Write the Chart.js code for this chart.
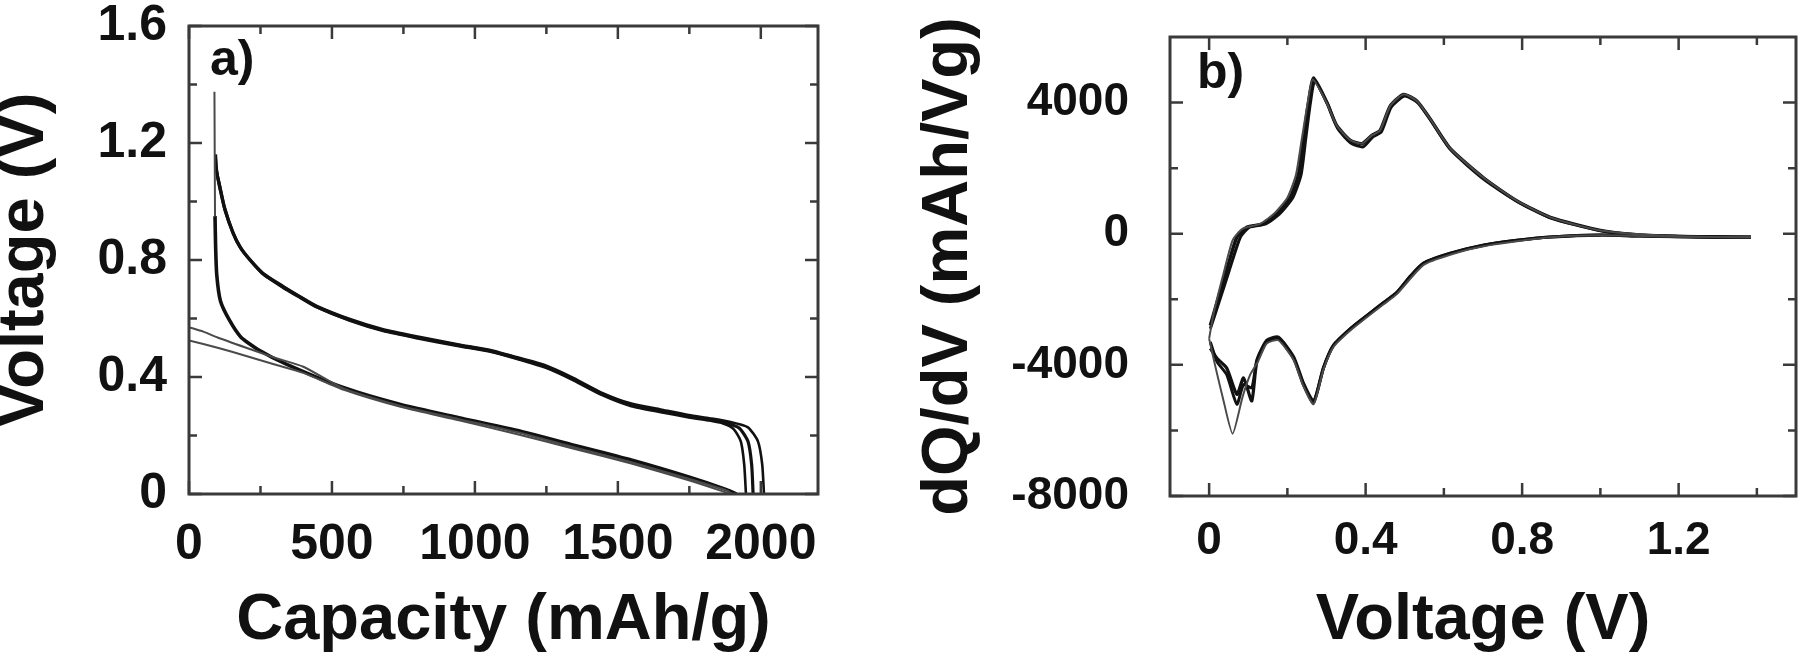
<!DOCTYPE html>
<html><head><meta charset="utf-8">
<script src="https://cdn.jsdelivr.net/npm/chart.js@4.4.1/dist/chart.umd.min.js"></script>
<style>
html,body{margin:0;padding:0;background:#fff;width:1800px;height:658px;overflow:hidden}
.p{position:absolute;top:0;width:900px;height:658px}
</style></head><body>
<div class="p" style="left:0"><canvas id="ca"></canvas></div>
<div class="p" style="left:900px"><canvas id="cb"></canvas></div>
<script>
// ---------- Panel a: Voltage vs Capacity ----------
const aXTicks = [0, 500, 1000, 1500, 2000];
const aXLabels = ['0', '500', '1000', '1500', '2000'];
const aXMinor = [250, 750, 1250, 1750];
const aYTicks = [0, 0.4, 0.8, 1.2, 1.6];
const aYLabels = ['0', '0.4', '0.8', '1.2', '1.6'];
const aYMinor = [0.2, 0.6, 1.0, 1.4];

const aUpCap1 = [93, 95, 100, 108, 125, 154, 180, 213, 260, 329, 390, 447, 563, 679, 800, 944, 1050, 1145, 1246, 1346, 1447, 1547, 1650, 1748, 1820, 1868, 1905, 1930, 1942, 1948];
const aUpV1   = [1.16, 1.12, 1.08, 1.04, 0.97, 0.89, 0.84, 0.80, 0.75, 0.705, 0.67, 0.638, 0.592, 0.557, 0.532, 0.505, 0.487, 0.462, 0.432, 0.388, 0.337, 0.300, 0.280, 0.262, 0.251, 0.241, 0.222, 0.180, 0.100, 0.0];
const aUpCap2 = [93, 95, 100, 108, 125, 154, 180, 213, 260, 329, 390, 447, 563, 679, 800, 944, 1050, 1145, 1246, 1346, 1447, 1547, 1650, 1748, 1820, 1880, 1925, 1955, 1968, 1973];
const aUpV2   = [1.16, 1.12, 1.085, 1.05, 0.975, 0.893, 0.842, 0.80, 0.752, 0.708, 0.672, 0.640, 0.595, 0.560, 0.535, 0.508, 0.490, 0.465, 0.436, 0.392, 0.341, 0.305, 0.285, 0.266, 0.255, 0.243, 0.225, 0.180, 0.100, 0.0];
const aUpCap3 = [93, 95, 100, 108, 125, 154, 180, 213, 260, 329, 390, 447, 563, 679, 800, 944, 1050, 1145, 1246, 1346, 1447, 1547, 1650, 1748, 1820, 1890, 1955, 1990, 2005, 2011];
const aUpV3   = [1.16, 1.12, 1.09, 1.055, 0.98, 0.896, 0.845, 0.803, 0.755, 0.711, 0.675, 0.643, 0.598, 0.563, 0.538, 0.511, 0.493, 0.468, 0.440, 0.396, 0.345, 0.309, 0.289, 0.270, 0.259, 0.247, 0.228, 0.180, 0.100, 0.0];

const aSpikeCap = [89, 90, 91];
const aSpikeV   = [1.375, 1.15, 0.95];
const aDnCap = [91, 93, 97, 110, 141, 181, 241, 342, 542, 743, 944, 1145, 1346, 1547, 1748, 1880, 1915];
const aDnV   = [0.95, 0.85, 0.75, 0.66, 0.595, 0.537, 0.494, 0.443, 0.363, 0.305, 0.261, 0.218, 0.167, 0.116, 0.058, 0.015, 0.0];
const aT1Cap = [0, 50, 100, 200, 300, 400, 542, 743, 944, 1145, 1346, 1547, 1748, 1880, 1900];
const aT1V   = [0.57, 0.555, 0.535, 0.50, 0.466, 0.435, 0.360, 0.300, 0.256, 0.212, 0.160, 0.109, 0.052, 0.012, 0.0];
const aT2Cap = [0, 100, 200, 300, 400, 542, 743, 944, 1145, 1346, 1547, 1748, 1870, 1890];
const aT2V   = [0.525, 0.50, 0.472, 0.443, 0.414, 0.356, 0.297, 0.252, 0.205, 0.155, 0.104, 0.047, 0.008, 0.0];

// ---------- Panel b: dQ/dV vs Voltage ----------
const bXTicks = [0, 0.4, 0.8, 1.2];
const bXLabels = ['0', '0.4', '0.8', '1.2'];
const bXMinor = [0.2, 0.6, 1.0, 1.4];
const bYTicks = [-8000, -4000, 0, 4000];
const bYLabels = ['-8000', '-4000', '0', '4000'];
const bYMinor = [-6000, -2000, 2000];

const bUpV1 = [0.0, 0.012, 0.035, 0.060, 0.085, 0.130, 0.165, 0.200, 0.222, 0.237, 0.252, 0.265, 0.300, 0.326, 0.361, 0.391, 0.416, 0.437, 0.463, 0.497, 0.531, 0.565, 0.616, 0.702, 0.787, 0.872, 1.0, 1.2, 1.385];
const bUpQ1 = [-3200, -2400, -1300, -200, 150, 300, 600, 1100, 1800, 2900, 4000, 4700, 4000, 3300, 2850, 2750, 3000, 3150, 3900, 4250, 4050, 3500, 2600, 1700, 1000, 500, 100, -80, -110];
const bUpV2 = [0.003, 0.020, 0.045, 0.071, 0.096, 0.139, 0.173, 0.207, 0.228, 0.241, 0.254, 0.267, 0.301, 0.326, 0.361, 0.391, 0.416, 0.437, 0.463, 0.497, 0.531, 0.565, 0.616, 0.702, 0.787, 0.872, 1.0, 1.1, 1.2, 1.3, 1.385];
const bUpQ2 = [-2800, -2100, -1100, -100, 200, 300, 600, 1100, 1800, 2900, 4000, 4750, 4000, 3300, 2850, 2750, 3000, 3150, 3900, 4250, 4050, 3500, 2600, 1700, 1000, 500, 100, -40, -80, -100, -110];
const bUpV3 = [0.003, 0.025, 0.052, 0.080, 0.103, 0.145, 0.180, 0.214, 0.235, 0.247, 0.259, 0.270, 0.303, 0.329, 0.364, 0.394, 0.418, 0.440, 0.465, 0.499, 0.533, 0.567, 0.618, 0.703, 0.788, 0.873, 1.0, 1.1, 1.2, 1.3, 1.385];
const bUpQ3 = [-2900, -2100, -1100, -100, 200, 300, 600, 1100, 1800, 2900, 4000, 4650, 3950, 3200, 2750, 2650, 2950, 3100, 3850, 4200, 4000, 3450, 2550, 1650, 980, 480, 90, -40, -80, -100, -110];

const bDnV1 = [1.385, 1.2, 1.0, 0.872, 0.702, 0.616, 0.548, 0.479, 0.446, 0.403, 0.361, 0.318, 0.292, 0.267, 0.241, 0.216, 0.177, 0.147, 0.125, 0.105, 0.085, 0.060, 0.035, 0.015, 0.0];
const bDnQ1 = [-110, -90, -50, -110, -380, -640, -950, -1850, -2150, -2550, -2950, -3450, -4150, -5200, -4650, -3850, -3250, -3350, -3900, -4300, -5000, -6100, -5000, -4000, -3200];
const bDnV2 = [1.385, 1.3, 1.2, 1.1, 1.0, 0.872, 0.787, 0.702, 0.616, 0.548, 0.514, 0.479, 0.446, 0.403, 0.361, 0.318, 0.292, 0.267, 0.241, 0.216, 0.177, 0.147, 0.122, 0.109, 0.088, 0.071, 0.045, 0.020, 0.003];
const bDnQ2 = [-110, -100, -90, -70, -40, -100, -200, -350, -600, -900, -1300, -1800, -2100, -2500, -2900, -3400, -4100, -5150, -4600, -3800, -3200, -3300, -3900, -5100, -4400, -4900, -4100, -3800, -3500];
const bDnQ3 = [-110, -100, -90, -70, -40, -100, -200, -350, -600, -900, -1300, -1800, -2100, -2500, -2900, -3400, -4100, -5100, -4550, -3750, -3150, -3250, -3850, -4700, -4600, -5200, -4300, -3900, -3300];

// ---------- helpers ----------
const FAM = "'Liberation Sans', Arial, Helvetica, sans-serif";
const THICK = '#111', THIN = '#4a4a4a';
const zip = (xs, ys) => xs.map((v, i) => ({x: v, y: ys[i]}));
const line = (xs, ys, w, c) => ({data: zip(xs, ys), showLine: true, borderColor: c, backgroundColor: c,
  borderWidth: w, pointRadius: 0, tension: 0.2, fill: false});
const noPad = s => { s.paddingTop = 0; s.paddingBottom = 0; s.paddingLeft = 0; s.paddingRight = 0; };

function framePlugin(c) {
  return {
    id: 'frame' + c.label.charAt(0),
    afterDatasetsDraw(chart) {
      const {ctx, chartArea: a, scales: {x, y}} = chart;
      ctx.save();
      ctx.strokeStyle = '#3a3a3a';
      ctx.lineWidth = 3;
      ctx.strokeRect(a.left, a.top, a.right - a.left, a.bottom - a.top);
      ctx.lineWidth = 2.5;
      const vx = (v, len) => {
        const p = x.getPixelForValue(v);
        ctx.beginPath(); ctx.moveTo(p, a.bottom); ctx.lineTo(p, a.bottom - len);
        ctx.moveTo(p, a.top); ctx.lineTo(p, a.top + len); ctx.stroke();
      };
      const vy = (v, len) => {
        const p = y.getPixelForValue(v);
        ctx.beginPath(); ctx.moveTo(a.left, p); ctx.lineTo(a.left + len, p);
        ctx.moveTo(a.right, p); ctx.lineTo(a.right - len, p); ctx.stroke();
      };
      c.xTicks.forEach(v => vx(v, 13));
      c.xMinor.forEach(v => vx(v, 8));
      c.yTicks.forEach(v => vy(v, 13));
      c.yMinor.forEach(v => vy(v, 8));
      ctx.fillStyle = '#111';
      ctx.font = `bold 50px ${FAM}`;
      ctx.textAlign = 'left';
      ctx.textBaseline = 'alphabetic';
      ctx.fillText(c.label, c.lx, c.ly);
      ctx.restore();
    }
  };
}

function makeChart(id, datasets, c) {
  const tickFont = {family: FAM, weight: 'bold', size: c.tickSize, lineHeight: 1.2};
  return new Chart(document.getElementById(id), {
    type: 'scatter',
    data: {datasets},
    options: {
      responsive: true, maintainAspectRatio: false, animation: false, devicePixelRatio: 1,
      layout: {padding: c.pad},
      plugins: {legend: {display: false}, tooltip: {enabled: false}},
      scales: {
        x: {
          type: 'linear', min: c.xMin, max: c.xMax,
          afterFit: s => { s.height = c.xH; noPad(s); },
          afterBuildTicks: s => { s.ticks = c.xTicks.map(v => ({value: v})); },
          grid: {display: false, drawTicks: false, tickLength: 0},
          border: {display: false},
          ticks: {padding: c.xPad, color: '#111', font: tickFont, maxRotation: 0, minRotation: 0, autoSkip: false,
                  callback: (v, i) => c.xLabels[i]},
          title: {display: true, text: c.xTitle, color: '#111',
                  font: {family: FAM, weight: 'bold', size: 65, lineHeight: 1.2}, padding: {top: 0, bottom: -2}}
        },
        y: {
          type: 'linear', min: c.yMin, max: c.yMax,
          afterFit: s => { s.width = c.yW; noPad(s); },
          afterBuildTicks: s => { s.ticks = c.yTicks.map(v => ({value: v})); },
          grid: {display: false, drawTicks: false, tickLength: 0},
          border: {display: false},
          ticks: {padding: c.yPad, color: '#111', font: tickFont, autoSkip: false,
                  callback: (v, i) => c.yLabels[i]},
          title: {display: true, text: c.yTitle, color: '#111',
                  font: {family: FAM, weight: 'bold', size: c.yTitleSize, lineHeight: 1.2},
                  padding: {top: c.yTitlePad, bottom: 0}}
        }
      }
    },
    plugins: [framePlugin(c)]
  });
}

makeChart('ca', [
  line(aT1Cap, aT1V, 2, THIN),
  line(aT2Cap, aT2V, 2, THIN),
  line(aSpikeCap, aSpikeV, 2, THIN),
  line(aDnCap, aDnV, 3.6, THICK),
  line(aUpCap1, aUpV1, 2.6, THICK),
  line(aUpCap2, aUpV2, 3.2, THICK),
  line(aUpCap3, aUpV3, 2.6, THICK)
], {
  pad: {left: 0, top: 26, right: 82, bottom: 0},
  xMin: 0, xMax: 2200, yMin: 0, yMax: 1.6, xH: 164, yW: 189,
  tickSize: 50, xPad: 21, yPad: 22, yTitleSize: 65, yTitlePad: -14,
  xTicks: aXTicks, xLabels: aXLabels, xMinor: aXMinor,
  yTicks: aYTicks, yLabels: aYLabels, yMinor: aYMinor,
  xTitle: 'Capacity (mAh/g)', yTitle: 'Voltage (V)',
  label: 'a)', lx: 210, ly: 75
});

makeChart('cb', [
  line(bUpV1, bUpQ1, 2, THIN),
  line(bDnV1, bDnQ1, 2, THIN),
  line(bUpV3, bUpQ3, 3, THICK),
  line(bDnV2, bDnQ3, 3, THICK),
  line(bUpV2, bUpQ2, 3.4, THICK),
  line(bDnV2, bDnQ2, 3.2, THICK)
], {
  pad: {left: 0, top: 37, right: 4, bottom: 0},
  xMin: -0.1, xMax: 1.5, yMin: -8000, yMax: 6000, xH: 162, yW: 270,
  tickSize: 46, xPad: 18, yPad: 41, yTitleSize: 65, yTitlePad: 10,
  xTicks: bXTicks, xLabels: bXLabels, xMinor: bXMinor,
  yTicks: bYTicks, yLabels: bYLabels, yMinor: bYMinor,
  xTitle: 'Voltage (V)', yTitle: 'dQ/dV (mAh/Vg)',
  label: 'b)', lx: 297, ly: 88
});
</script>
</body></html>
